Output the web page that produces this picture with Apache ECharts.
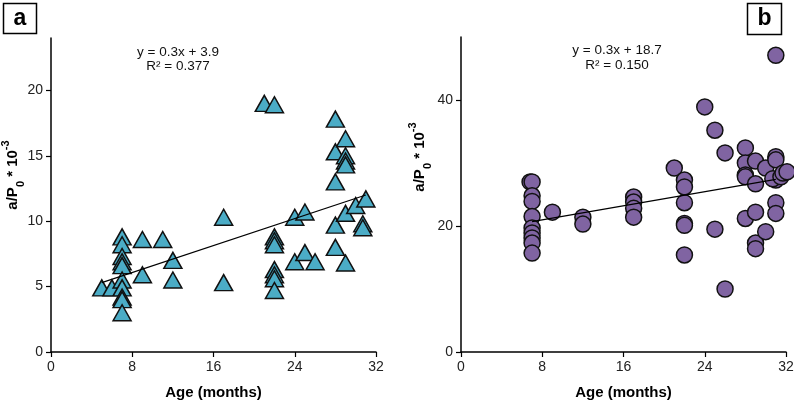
<!DOCTYPE html>
<html><head><meta charset="utf-8">
<script src="https://cdn.jsdelivr.net/npm/echarts@6/dist/echarts.min.js"></script>
<style>html,body{margin:0;padding:0;background:#fff}#c{width:794px;height:400px}</style>
</head><body><div id="c"></div>
<script>
// Panel a (triangles)
const ageA = [5,6,7,7,7,7,7,7,7,7,7,7,9,9,11,12,12,17,17,21,22,22,22,22,22,22,22,22,24,24,25,25,26,28,28,28,28,28,29,29,29,29,29,29,30,30.7,30.7,31];
const valA = [4.9,4.9,8.8,8.2,7.3,6.9,6.6,5.5,4.9,4.2,4.0,3.0,8.6,5.9,8.6,7.0,5.5,10.3,5.3,19.0,18.9,8.8,8.5,8.2,6.3,5.9,5.6,4.7,10.3,6.9,10.7,7.6,6.9,17.8,15.3,13.0,9.7,8.0,16.3,15.0,14.6,14.3,10.6,6.8,11.2,9.8,9.5,11.7];
const trendAx = [5, 31];
const trendAy = [5.3, 12.0];
// Panel b (circles)
const ageB = [6.8,7,7,7,7,7,7,7,7,7,9,12,12,17,17,17,17,21,22,22,22,22,22,22,24,25,25,26,26,28,28,28,28,28,29,29,29,29,29,30,30,31,31,31,31,31,31,30.7,31.5,31.7,32.1];
const valB = [27.0,27.0,24.8,23.9,21.5,19.7,18.9,18.1,17.3,15.7,22.2,21.4,20.3,24.6,23.8,22.8,21.4,29.2,27.3,26.2,23.7,20.4,20.1,15.4,38.9,35.2,19.5,31.6,10.0,32.4,30.0,28.1,27.8,21.2,30.3,26.7,22.2,17.3,16.4,29.2,19.1,47.1,31.0,30.5,27.3,23.7,22.0,27.5,27.8,28.4,28.6];
const trendBx = [7, 31];
const trendBy = [20.7, 27.4];
const xTicks = [0, 8, 16, 24, 32];
const yTicksA = [0, 5, 10, 15, 20];
const yTicksB = [0, 20, 40];

const FONT = '"Liberation Sans", Arial, sans-serif';
const pairs = (xs, ys) => xs.map((x, i) => [x, ys[i]]);

const axisCommon = {
  axisLine: { show: true, onZero: false, lineStyle: { color: '#000', width: 1.5 } },
  axisTick: { show: true, length: 5, lineStyle: { color: '#000', width: 1.2 } },
  splitLine: { show: false },
  axisLabel: { color: '#222', fontSize: 14, fontFamily: FONT, margin: 8 }
};
function xAxis(gi, name) {
  return Object.assign({}, axisCommon, {
    type: 'value', gridIndex: gi, min: 0, max: 32, interval: 8,
    name: name, nameLocation: 'middle', nameGap: 33,
    nameTextStyle: { fontSize: 15, fontWeight: 'bold', color: '#000', fontFamily: FONT },
    axisTick: Object.assign({}, axisCommon.axisTick, { customValues: xTicks }),
    axisLabel: Object.assign({}, axisCommon.axisLabel, { customValues: xTicks })
  });
}
function yAxis(gi, max, ticks) {
  return Object.assign({}, axisCommon, {
    type: 'value', gridIndex: gi, min: 0, max: max,
    axisTick: Object.assign({}, axisCommon.axisTick, { customValues: ticks }),
    axisLabel: Object.assign({}, axisCommon.axisLabel, { customValues: ticks })
  });
}
const yNameStyle = {
  text: 'a/P{sub|0} * 10{sup|-3}',
  fontSize: 15, fontWeight: 'bold', fontFamily: FONT, fill: '#000',
  align: 'center', verticalAlign: 'middle',
  rich: {
    sub: { fontSize: 11, fontWeight: 'bold', fontFamily: FONT, verticalAlign: 'bottom', lineHeight: 26 },
    sup: { fontSize: 11, fontWeight: 'bold', fontFamily: FONT, verticalAlign: 'top', lineHeight: 26 }
  }
};
const option = {
  animation: false,
  backgroundColor: '#fff',
  grid: [
    { left: 51, top: 38, width: 325, height: 314, outerBoundsMode: 'none', containLabel: false },
    { left: 461, top: 37, width: 325, height: 315, outerBoundsMode: 'none', containLabel: false }
  ],
  xAxis: [xAxis(0, 'Age (months)'), xAxis(1, 'Age (months)')],
  yAxis: [yAxis(0, 24, yTicksA), yAxis(1, 50, yTicksB)],
  series: [
    { type: 'scatter', xAxisIndex: 0, yAxisIndex: 0, data: pairs(ageA, valA),
      symbol: 'triangle', symbolSize: [18, 16], clip: false,
      itemStyle: { color: '#4BACC6', borderColor: '#111', borderWidth: 1.5, opacity: 1 } },
    { type: 'line', xAxisIndex: 0, yAxisIndex: 0, data: pairs(trendAx, trendAy),
      symbol: 'none', z: 5, lineStyle: { color: '#000', width: 1.2 } },
    { type: 'scatter', xAxisIndex: 1, yAxisIndex: 1, data: pairs(ageB, valB),
      symbol: 'circle', symbolSize: 16, clip: false,
      itemStyle: { color: '#8064A2', borderColor: '#111', borderWidth: 1.5, opacity: 1 } },
    { type: 'line', xAxisIndex: 1, yAxisIndex: 1, data: pairs(trendBx, trendBy),
      symbol: 'none', z: 5, lineStyle: { color: '#000', width: 1.2 } }
  ],
  graphic: [
    { type: 'rect', shape: { x: 3.5, y: 3.5, width: 33, height: 30 }, style: { fill: '#fff', stroke: '#000', lineWidth: 1.5 } },
    { type: 'text', x: 20, y: 19, style: { text: 'a', fontSize: 23, fontWeight: 'bold', fontFamily: FONT, fill: '#000', align: 'center', verticalAlign: 'middle' } },
    { type: 'rect', shape: { x: 747.5, y: 3.5, width: 34, height: 31 }, style: { fill: '#fff', stroke: '#000', lineWidth: 1.5 } },
    { type: 'text', x: 764.5, y: 19, style: { text: 'b', fontSize: 23, fontWeight: 'bold', fontFamily: FONT, fill: '#000', align: 'center', verticalAlign: 'middle' } },
    { type: 'text', x: 178, y: 52, style: { text: 'y = 0.3x + 3.9', fontSize: 13.5, fontFamily: FONT, fill: '#111', align: 'center', verticalAlign: 'middle' } },
    { type: 'text', x: 178, y: 66, style: { text: 'R² = 0.377', fontSize: 13.5, fontFamily: FONT, fill: '#111', align: 'center', verticalAlign: 'middle' } },
    { type: 'text', x: 617, y: 50, style: { text: 'y = 0.3x + 18.7', fontSize: 13.5, fontFamily: FONT, fill: '#111', align: 'center', verticalAlign: 'middle' } },
    { type: 'text', x: 617, y: 65, style: { text: 'R² = 0.150', fontSize: 13.5, fontFamily: FONT, fill: '#111', align: 'center', verticalAlign: 'middle' } },
    { type: 'text', x: 13, y: 175, rotation: Math.PI / 2, style: yNameStyle },
    { type: 'text', x: 420, y: 157, rotation: Math.PI / 2, style: yNameStyle }
  ]
};
const chart = echarts.init(document.getElementById('c'), null, { renderer: 'canvas' });
chart.setOption(option);
</script>
</body></html>
